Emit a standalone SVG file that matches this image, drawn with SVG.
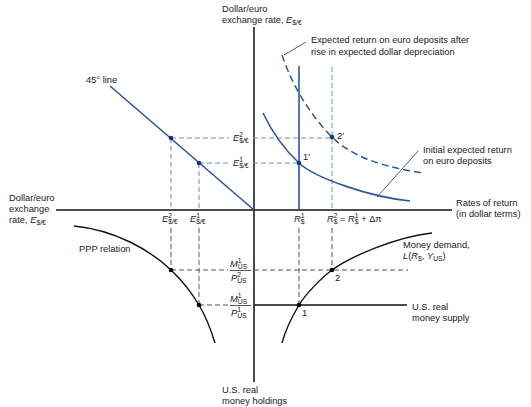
<svg xmlns="http://www.w3.org/2000/svg" width="531" height="407" viewBox="0 0 531 407">
<style>
text{font-family:"Liberation Sans",Arial,sans-serif;font-size:9.3px;fill:#1a1a1a}
.ax{stroke:#111;stroke-width:1.5;fill:none}
.bl{stroke:#2c56a0;stroke-width:1.6;fill:none}
.bld{stroke:#2c56a0;stroke-width:1.5;stroke-dasharray:7,4;fill:none}
.gd{stroke:#6f8fc2;stroke-width:1;stroke-dasharray:5,3;fill:none}
.kd{stroke:#555;stroke-width:1;stroke-dasharray:5,3;fill:none}
.kc{stroke:#111;stroke-width:1.4;fill:none}
.ptr{stroke:#333;stroke-width:0.8;fill:none}
.dotb{fill:#17357a}
.dotk{fill:#000}
.s{font-size:6.8px}
.i{font-style:italic}
</style>
<g id="connectors">
<line class="ax" x1="254" y1="27" x2="254" y2="382"/>
<line class="ax" x1="56" y1="210" x2="452" y2="210"/>
<line class="gd" x1="171" y1="138" x2="229" y2="138"/>
<line class="gd" x1="253" y1="138" x2="332" y2="138"/>
<line class="gd" x1="199" y1="163" x2="229" y2="163"/>
<line class="gd" x1="253" y1="163" x2="299" y2="163"/>
<line class="gd" x1="171" y1="138" x2="171" y2="210"/>
<line class="gd" x1="199" y1="163" x2="199" y2="210"/>
<line class="gd" x1="332" y1="67" x2="332" y2="210"/>
<line class="kd" x1="171" y1="228" x2="171" y2="270"/>
<line class="kd" x1="199" y1="228" x2="199" y2="305"/>
<line class="kd" x1="299" y1="228" x2="299" y2="305"/>
<line class="kd" x1="332" y1="228" x2="332" y2="270"/>
<line class="kd" x1="171" y1="270" x2="228" y2="270"/>
<line class="kd" x1="254" y1="270" x2="408" y2="270"/>
<line class="kd" x1="199" y1="305" x2="228" y2="305"/>
<line class="ptr" x1="284" y1="55" x2="306" y2="42"/>
<line class="ptr" x1="377" y1="197" x2="418" y2="151"/>
</g>
<g id="line45">
<line class="bl" x1="110" y1="86" x2="254" y2="210"/>
<text x="86" y="83">45° line</text>
</g>
<g id="r1-line">
<line class="bl" x1="299" y1="66" x2="299" y2="210"/>
</g>
<g id="initial-return">
<path class="bl" d="M263,113 C272,132 285,150 299,163 C315,178 370,197 410,201"/>
<text x="423" y="153">Initial expected return</text>
<text x="423" y="164">on euro deposits</text>
</g>
<g id="new-return">
<path class="bld" d="M282,55 C292,85 310,115 332,137 C354,159 390,168 423,173"/>
<text x="311" y="43">Expected return on euro deposits after</text>
<text x="311" y="55">rise in expected dollar depreciation</text>
</g>
<g id="ppp">
<path class="kc" d="M74,226 C115,230 150,250 171,270 C181,279.5 193,295 199,305 C205,315 211,330 215,343"/>
<text x="79" y="252">PPP relation</text>
</g>
<g id="money-demand">
<path class="kc" d="M282,343 C286,328 293,315 299,305 C305,295 320,279 332,270 C350,257 395,237 432,233"/>
<text x="403" y="248">Money demand,</text>
<text x="403" y="259"><tspan class="i">L</tspan>(<tspan class="i">R</tspan><tspan class="s" dy="2">$</tspan><tspan dy="-2">, </tspan><tspan class="i">Y</tspan><tspan class="s" dy="2">US</tspan><tspan dy="-2">)</tspan></text>
</g>
<g id="money-supply">
<line class="kc" x1="254" y1="305" x2="407" y2="305"/>
<text x="412" y="310">U.S. real</text>
<text x="412" y="321">money supply</text>
</g>
<g id="points">
<circle class="dotb" cx="171" cy="138" r="2.3"/>
<circle class="dotb" cx="199" cy="163" r="2.3"/>
<circle class="dotb" cx="299" cy="163" r="2.3"/>
<circle class="dotb" cx="332" cy="137" r="2.3"/>
<circle class="dotk" cx="171" cy="270" r="2.3"/>
<circle class="dotk" cx="199" cy="305" r="2.3"/>
<circle class="dotk" cx="299" cy="305" r="2.3"/>
<circle class="dotk" cx="332" cy="270" r="2.3"/>
<text x="303" y="160">1'</text>
<text x="337" y="139">2'</text>
<text x="302" y="316">1</text>
<text x="335" y="281">2</text>
</g>
<g id="axis-labels">
<text x="222" y="12">Dollar/euro</text>
<text x="222" y="23">exchange rate, <tspan class="i">E</tspan><tspan class="s" dy="2">$/€</tspan></text>
<text x="9" y="201">Dollar/euro</text>
<text x="9" y="212">exchange</text>
<text x="9" y="223">rate, <tspan class="i">E</tspan><tspan class="s" dy="2">$/€</tspan></text>
<text x="456" y="206">Rates of return</text>
<text x="456" y="217">(in dollar terms)</text>
<text x="222" y="393">U.S. real</text>
<text x="222" y="404">money holdings</text>
</g>
<g id="tick-labels">
<text x="233" y="141"><tspan class="i">E</tspan><tspan class="s" dy="-4">2</tspan><tspan class="s" dx="-3.8" dy="6">$/€</tspan></text>
<text x="233" y="166"><tspan class="i">E</tspan><tspan class="s" dy="-4">1</tspan><tspan class="s" dx="-3.8" dy="6">$/€</tspan></text>
<text x="162" y="222"><tspan class="i">E</tspan><tspan class="s" dy="-4">2</tspan><tspan class="s" dx="-3.8" dy="6">$/€</tspan></text>
<text x="190" y="222"><tspan class="i">E</tspan><tspan class="s" dy="-4">1</tspan><tspan class="s" dx="-3.8" dy="6">$/€</tspan></text>
<text x="294" y="222"><tspan class="i">R</tspan><tspan class="s" dy="-4">1</tspan><tspan class="s" dx="-3.8" dy="6">$</tspan></text>
<text x="327" y="222"><tspan class="i">R</tspan><tspan class="s" dy="-4">2</tspan><tspan class="s" dx="-3.8" dy="6">$</tspan><tspan dy="-2"> = </tspan><tspan class="i">R</tspan><tspan class="s" dy="-4">1</tspan><tspan class="s" dx="-3.8" dy="6">$</tspan><tspan dy="-2"> + Δπ</tspan></text>
<line x1="230" y1="270.5" x2="251" y2="270.5" stroke="#111" stroke-width="0.7"/>
<text x="230" y="267"><tspan class="i">M</tspan><tspan class="s" dy="-4">1</tspan><tspan class="s" dx="-3.8" dy="6">US</tspan></text>
<text x="231" y="281"><tspan class="i">P</tspan><tspan class="s" dy="-4">2</tspan><tspan class="s" dx="-3.8" dy="6">US</tspan></text>
<line x1="230" y1="305.5" x2="251" y2="305.5" stroke="#111" stroke-width="0.7"/>
<text x="230" y="302"><tspan class="i">M</tspan><tspan class="s" dy="-4">1</tspan><tspan class="s" dx="-3.8" dy="6">US</tspan></text>
<text x="231" y="316"><tspan class="i">P</tspan><tspan class="s" dy="-4">1</tspan><tspan class="s" dx="-3.8" dy="6">US</tspan></text>
</g>
</svg>
